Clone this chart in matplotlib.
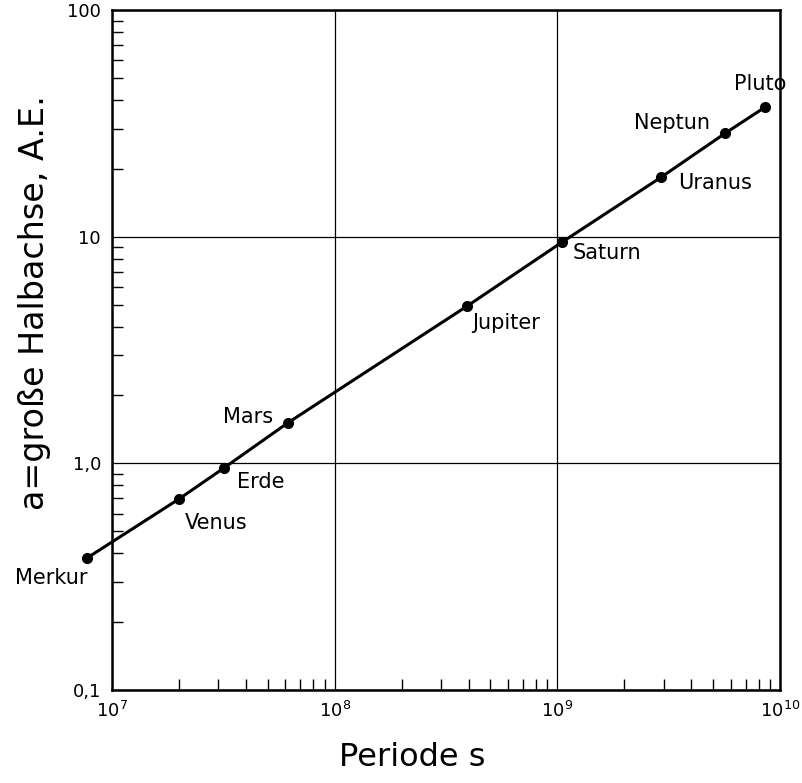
import matplotlib
matplotlib.use("Agg")
import matplotlib.pyplot as plt
from matplotlib.ticker import FixedLocator, LogLocator, NullFormatter

# === DATA ===
planets = ["Merkur", "Venus", "Erde", "Mars", "Jupiter", "Saturn", "Uranus", "Neptun", "Pluto"]
period_s = [7.73e6, 2.0e7, 3.18e7, 6.17e7, 3.93e8, 1.05e9, 2.92e9, 5.66e9, 8.55e9]
semi_axis_ae = [0.382, 0.696, 0.953, 1.51, 4.94, 9.47, 18.3, 28.6, 37.3]

x_ticks = [1e7, 1e8, 1e9, 1e10]
x_labels = ["$10^{7}$", "$10^{8}$", "$10^{9}$", "$10^{10}$"]
y_ticks = [0.1, 1, 10, 100]
y_labels = ["0,1", "1,0", "10", "100"]

# label placement (offset in pixels, alignment)
label_pos = {
    "Merkur": (-36, -20, "center"),
    "Venus": (6, -24, "left"),
    "Erde": (13, -14, "left"),
    "Mars": (-15, 6, "right"),
    "Jupiter": (5, -17, "left"),
    "Saturn": (10, -11, "left"),
    "Uranus": (17, -6, "left"),
    "Neptun": (-15, 10, "right"),
    "Pluto": (-5, 23, "center"),
}

# ------------------------------
fig = plt.figure(figsize=(8.03, 7.83), dpi=100)
ax = fig.add_axes([0.1395, 0.119, 0.832, 0.868])

ax.set_xscale("log")
ax.set_yscale("log")
ax.set_xlim(1e7, 1e10)
ax.set_ylim(0.1, 100)

ax.plot(period_s, semi_axis_ae, color="black", lw=2.2, marker="o", ms=7, clip_on=False, zorder=3)

for name, px, py in zip(planets, period_s, semi_axis_ae):
    dx, dy, ha = label_pos[name]
    ax.annotate(name, (px, py), xytext=(dx, dy), textcoords="offset pixels",
                ha=ha, va="center", fontsize=15, annotation_clip=False)

ax.xaxis.set_major_locator(FixedLocator(x_ticks))
ax.set_xticklabels(x_labels, fontsize=13)
ax.yaxis.set_major_locator(FixedLocator(y_ticks))
ax.set_yticklabels(y_labels, fontsize=13)
ax.xaxis.set_minor_locator(LogLocator(base=10, subs=range(2, 10)))
ax.yaxis.set_minor_locator(LogLocator(base=10, subs=range(2, 10)))
ax.xaxis.set_minor_formatter(NullFormatter())
ax.yaxis.set_minor_formatter(NullFormatter())

ax.tick_params(which="major", direction="in", length=0, pad=8)
ax.tick_params(which="minor", direction="in", length=8, width=1)
ax.grid(which="major", color="black", lw=0.9)

for s in ax.spines.values():
    s.set_linewidth(1.8)

ax.set_xlabel("Periode s", fontsize=23)
ax.xaxis.set_label_coords(0.449, -0.077)
ax.set_ylabel("a=große Halbachse, A.E.", fontsize=24)
ax.yaxis.set_label_coords(-0.092, 0.57)

fig.savefig("out.png", dpi=100)
